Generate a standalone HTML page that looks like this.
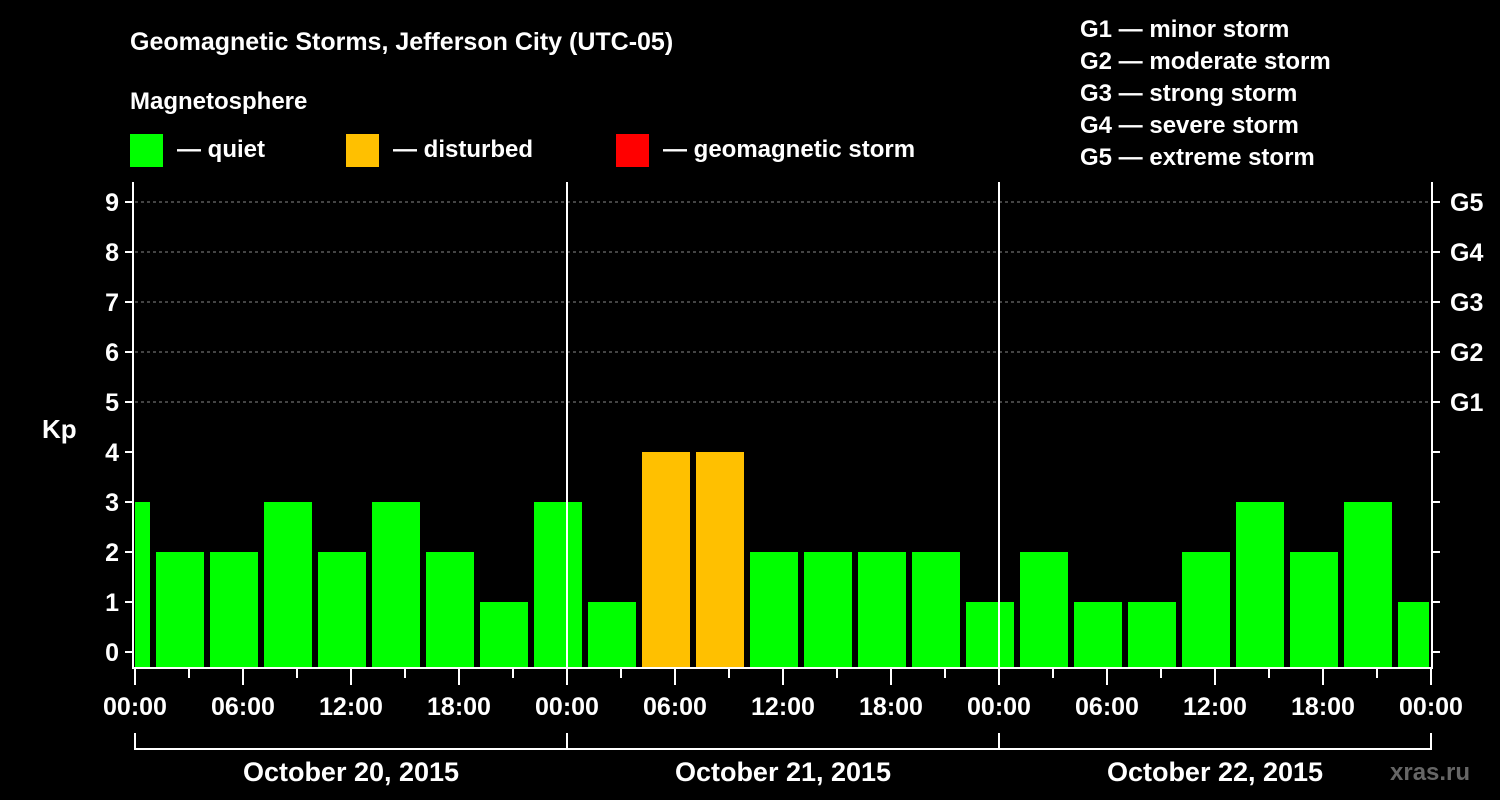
<!DOCTYPE html>
<html><head><meta charset="utf-8"><style>
html,body{margin:0;padding:0;background:#000;}
svg{display:block;font-family:"Liberation Sans",Arial,sans-serif;font-weight:bold;}
</style></head><body>
<svg width="1500" height="800" viewBox="0 0 1500 800">
<rect width="1500" height="800" fill="#000"/>
<text x="130" y="50" fill="#fff" font-size="25">Geomagnetic Storms, Jefferson City (UTC-05)</text>
<text x="130" y="109" fill="#fff" font-size="24">Magnetosphere</text>
<g>
<rect x="130" y="134" width="33" height="33" fill="#00ff00"/>
<text x="177" y="157" fill="#fff" font-size="24">— quiet</text>
<rect x="346" y="134" width="33" height="33" fill="#ffc000"/>
<text x="393" y="157" fill="#fff" font-size="24">— disturbed</text>
<rect x="616" y="134" width="33" height="33" fill="#ff0000"/>
<text x="663" y="157" fill="#fff" font-size="24">— geomagnetic storm</text>
</g>
<g fill="#fff" font-size="24">
<text x="1080" y="37">G1 — minor storm</text>
<text x="1080" y="69">G2 — moderate storm</text>
<text x="1080" y="101">G3 — strong storm</text>
<text x="1080" y="133">G4 — severe storm</text>
<text x="1080" y="165">G5 — extreme storm</text>
</g>
<text x="42" y="438" fill="#fff" font-size="26">Kp</text>
<text x="1390" y="780" fill="#666" font-size="24">xras.ru</text>
<g id="plot"></g>
</svg>
<script>
const firstValue = 3;
const kpValues = [2,2,3,2,3,2,1,3, 1,4,4,2,2,2,2,1, 2,1,1,2,3,2,3,1];
const xTickLabels = ["00:00","06:00","12:00","18:00","00:00","06:00","12:00","18:00","00:00","06:00","12:00","18:00","00:00"];
const dayLabels = ["October 20, 2015","October 21, 2015","October 22, 2015"];
const yTicks = [0,1,2,3,4,5,6,7,8,9];
const gLabels = ["G1","G2","G3","G4","G5"];

const NS="http://www.w3.org/2000/svg";
const g=document.getElementById('plot');
const X0=135, PXH=18, TOP=182, BOT=668;
const xs=h=>X0+h*PXH;
const ys=v=>652-v*50;
function el(t,a){const e=document.createElementNS(NS,t);for(const k in a)e.setAttribute(k,a[k]);g.appendChild(e);return e;}
function col(v){return v>=5?"#ff0000":v>=4?"#ffc000":"#00ff00";}
// grid
yTicks.forEach(v=>{if(v>=5){const l=el('line',{x1:X0,x2:xs(72),y1:ys(v),y2:ys(v),stroke:'#888','stroke-dasharray':'3,3'});

}});
// bars
let b=el('rect',{x:X0,y:ys(firstValue),width:xs(1)-3-X0,height:BOT-ys(firstValue),fill:col(firstValue)});


kpValues.forEach((v,i)=>{const s=xs(1+3*i)+3,e=Math.min(xs(4+3*i)-3,xs(72)-2);
const r=el('rect',{x:s,y:ys(v),width:e-s,height:BOT-ys(v),fill:col(v)});

});
// day separators
[24,48].forEach(h=>{const l=el('line',{x1:xs(h),x2:xs(h),y1:TOP,y2:BOT,stroke:'#fff','stroke-width':2});

});
// axes
let ax=el('path',{d:`M${X0-2} ${TOP}V${BOT}H${xs(72)+1}V${TOP}`,fill:'none',stroke:'#fff','stroke-width':2});


yTicks.forEach(v=>{
 el('line',{x1:X0-10,x2:X0-2,y1:ys(v),y2:ys(v),stroke:'#fff','stroke-width':2});
 el('line',{x1:xs(72)+1,x2:xs(72)+9,y1:ys(v),y2:ys(v),stroke:'#fff','stroke-width':2});
 const t=el('text',{x:X0-16,y:ys(v)+9,fill:'#fff','font-size':25,'text-anchor':'end'});t.textContent=v;
 
 
 if(v>=5){const gl=el('text',{x:1450,y:ys(v)+9,fill:'#fff','font-size':25});gl.textContent=gLabels[v-5];
 
 }
});
for(let h=0;h<=72;h+=3){el('line',{x1:xs(h),x2:xs(h),y1:BOT,y2:h%6?678:685,stroke:'#fff','stroke-width':2});}
xTickLabels.forEach((s,i)=>{const t=el('text',{x:xs(i*6),y:715,fill:'#fff','font-size':25,'text-anchor':'middle'});t.textContent=s;

});
let br=el('path',{d:`M${X0} 733V749H${xs(72)}V733M${xs(24)} 733V749M${xs(48)} 733V749`,fill:'none',stroke:'#fff','stroke-width':2});


dayLabels.forEach((s,i)=>{const t=el('text',{x:xs(i*24+12),y:781,fill:'#fff','font-size':27,'text-anchor':'middle'});t.textContent=s;

});
</script>
</body></html>
